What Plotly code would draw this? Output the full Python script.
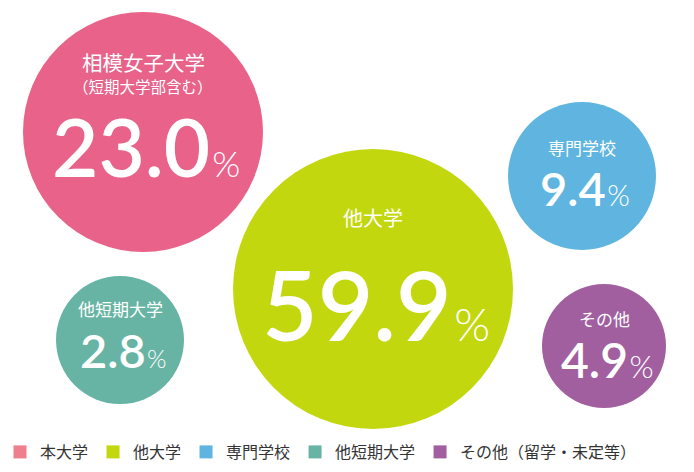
import plotly.graph_objects as go

# ---- data ----
categories = ["相模女子大学", "他大学", "専門学校", "他短期大学", "その他"]
sublabels = ["（短期大学部含む）", "", "", "", ""]
values = [23.0, 59.9, 9.4, 2.8, 4.9]
legend_names = ["本大学", "他大学", "専門学校", "他短期大学", "その他（留学・未定等）"]

# ---- layout / style (pixel space) ----
W, H = 694, 472
cx = [143, 373, 582, 120, 604]
cy = [132, 289, 176, 340, 346]
radius = [120, 140, 74, 64, 62]
bubble_colors = ["#E8628A", "#C3D70E", "#5FB5E0", "#68B4A4", "#A25FA0"]
legend_colors = ["#F07F8E", "#C3D70E", "#5FB5E0", "#68B4A4", "#A25FA0"]
label_dy = [-70, -72, -29, -32, -28]
sublabel_dy = [-46, 0, 0, 0, 0]
label_size = [20.5, 20, 17, 17, 17]
sublabel_size = [15.5, 0, 0, 0, 0]
num_dy = [14, 14, 12, 10, 13]
num_size = [80, 96, 47, 47, 48]
pct_size = [36, 46, 29, 25, 31]
gap_size = [8, 10, 6, 5, 6]

JP = "Noto Sans CJK JP"
NUM = "Lato"

fig = go.Figure()

for i in range(len(values)):
    fig.add_trace(go.Scatter(
        x=[cx[i]], y=[cy[i]], mode="markers",
        marker=dict(size=2 * radius[i], color=bubble_colors[i], line=dict(width=0), opacity=1),
        showlegend=False, hoverinfo="skip",
    ))

for i, name in enumerate(legend_names):
    fig.add_trace(go.Scatter(
        x=[None], y=[None], mode="markers", name=name,
        marker=dict(symbol="square", size=13, color=legend_colors[i]),
        showlegend=True, hoverinfo="skip",
    ))

annotations = []
for i in range(len(values)):
    annotations.append(dict(
        x=cx[i], y=cy[i] + label_dy[i], text=categories[i], showarrow=False,
        xanchor="center", yanchor="middle",
        font=dict(family=JP, size=label_size[i], color="white"),
    ))
    if sublabels[i]:
        annotations.append(dict(
            x=cx[i], y=cy[i] + sublabel_dy[i], text=sublabels[i], showarrow=False,
            xanchor="center", yanchor="middle",
            font=dict(family=JP, size=sublabel_size[i], color="white"),
        ))
    annotations.append(dict(
        x=cx[i] + 3, y=cy[i] + num_dy[i],
        text=(f"{values[i]:.1f}<span style='font-size:{gap_size[i]}px'> </span>"
              f"<span style='font-size:{pct_size[i]}px;font-weight:300'>%</span>"),
        showarrow=False, xanchor="center", yanchor="middle",
        font=dict(family=NUM, size=num_size[i], color="white", weight=600),
    ))

fig.update_layout(
    width=W, height=H,
    margin=dict(l=0, r=0, t=0, b=0),
    paper_bgcolor="white", plot_bgcolor="white",
    xaxis=dict(range=[0, W], visible=False, fixedrange=True),
    yaxis=dict(range=[H, 0], visible=False, fixedrange=True),
    annotations=annotations,
    showlegend=True,
    legend=dict(
        orientation="h", x=0.0, xanchor="left", y=1 - 452 / H, yanchor="middle",
        font=dict(family=JP, size=16, color="#333333"),
        itemwidth=30, bgcolor="rgba(0,0,0,0)",
    ),
    hovermode=False,
)

fig.write_html("out.html")
